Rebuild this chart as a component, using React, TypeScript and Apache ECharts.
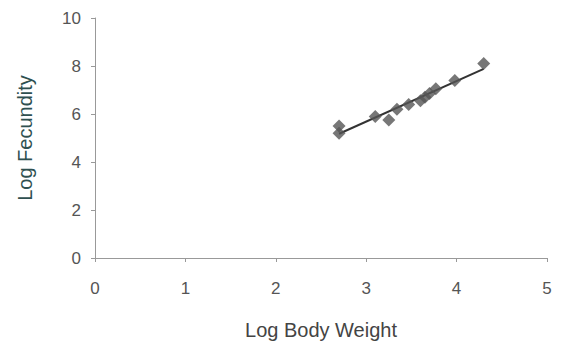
import React, { useEffect, useRef } from "react";
import * as echarts from "echarts";

const logBodyWeight = [2.7, 2.7, 3.1, 3.25, 3.34, 3.47, 3.6, 3.65, 3.7, 3.77, 3.98, 4.3];
const logFecundity = [5.5, 5.2, 5.9, 5.75, 6.2, 6.4, 6.55, 6.7, 6.85, 7.05, 7.4, 8.1];
const xTicks = [0, 1, 2, 3, 4, 5];
const yTicks = [0, 2, 4, 6, 8, 10];

function fit(xs: number[], ys: number[]) {
  const n = xs.length;
  const mx = xs.reduce((a, b) => a + b, 0) / n;
  const my = ys.reduce((a, b) => a + b, 0) / n;
  let sxy = 0, sxx = 0;
  for (let i = 0; i < n; i++) {
    sxy += (xs[i] - mx) * (ys[i] - my);
    sxx += (xs[i] - mx) * (xs[i] - mx);
  }
  const b = sxy / sxx;
  return { a: my - b * mx, b };
}

export default function App() {
  const ref = useRef<HTMLDivElement>(null);
  useEffect(() => {
    if (!ref.current) return;
    const chart = echarts.init(ref.current, null, { renderer: "svg" });
    const { a, b } = fit(logBodyWeight, logFecundity);
    const xmin = Math.min(...logBodyWeight);
    const xmax = Math.max(...logBodyWeight);
    const pts = logBodyWeight.map((x, i) => [x, logFecundity[i]]);
    chart.setOption({
      animation: false,
      backgroundColor: "#ffffff",
      grid: { left: 95, right: 16, top: 18, bottom: 87, outerBoundsMode: "none", containLabel: false },
      xAxis: {
        type: "value",
        min: xTicks[0],
        max: xTicks[xTicks.length - 1],
        interval: 1,
        name: "Log Body Weight",
        nameLocation: "middle",
        nameGap: 62,
        nameTextStyle: { fontSize: 20, color: "#444", fontFamily: "Liberation Sans, Arial, sans-serif" },
        axisLine: { lineStyle: { color: "#999" } },
        axisTick: { show: true, length: 4, lineStyle: { color: "#999" } },
        axisLabel: { fontSize: 17, color: "#555", margin: 22, fontFamily: "Liberation Sans, Arial, sans-serif" },
        splitLine: { show: false },
      },
      yAxis: {
        type: "value",
        min: yTicks[0],
        max: yTicks[yTicks.length - 1],
        interval: 2,
        name: "Log Fecundity",
        nameLocation: "middle",
        nameGap: 60,
        nameTextStyle: { fontSize: 20, color: "#2f5050", fontFamily: "Liberation Sans, Arial, sans-serif" },
        axisLine: { show: true, lineStyle: { color: "#999" } },
        axisTick: { show: true, length: 4, lineStyle: { color: "#999" } },
        axisLabel: { fontSize: 17, color: "#555", margin: 14, fontFamily: "Liberation Sans, Arial, sans-serif" },
        splitLine: { show: false },
      },
      series: [
        {
          type: "line",
          data: [[xmin, a + b * xmin], [xmax, a + b * xmax]],
          symbol: "none",
          lineStyle: { color: "#333", width: 2 },
          z: 2,
        },
        {
          type: "scatter",
          data: pts,
          symbol: "diamond",
          symbolSize: 13,
          itemStyle: { color: "#555" },
          z: 3,
        },
      ],
    });
    return () => chart.dispose();
  }, []);
  return <div ref={ref} style={{ width: 563, height: 345, position: "absolute", left: 0, top: 0 }} />;
}
